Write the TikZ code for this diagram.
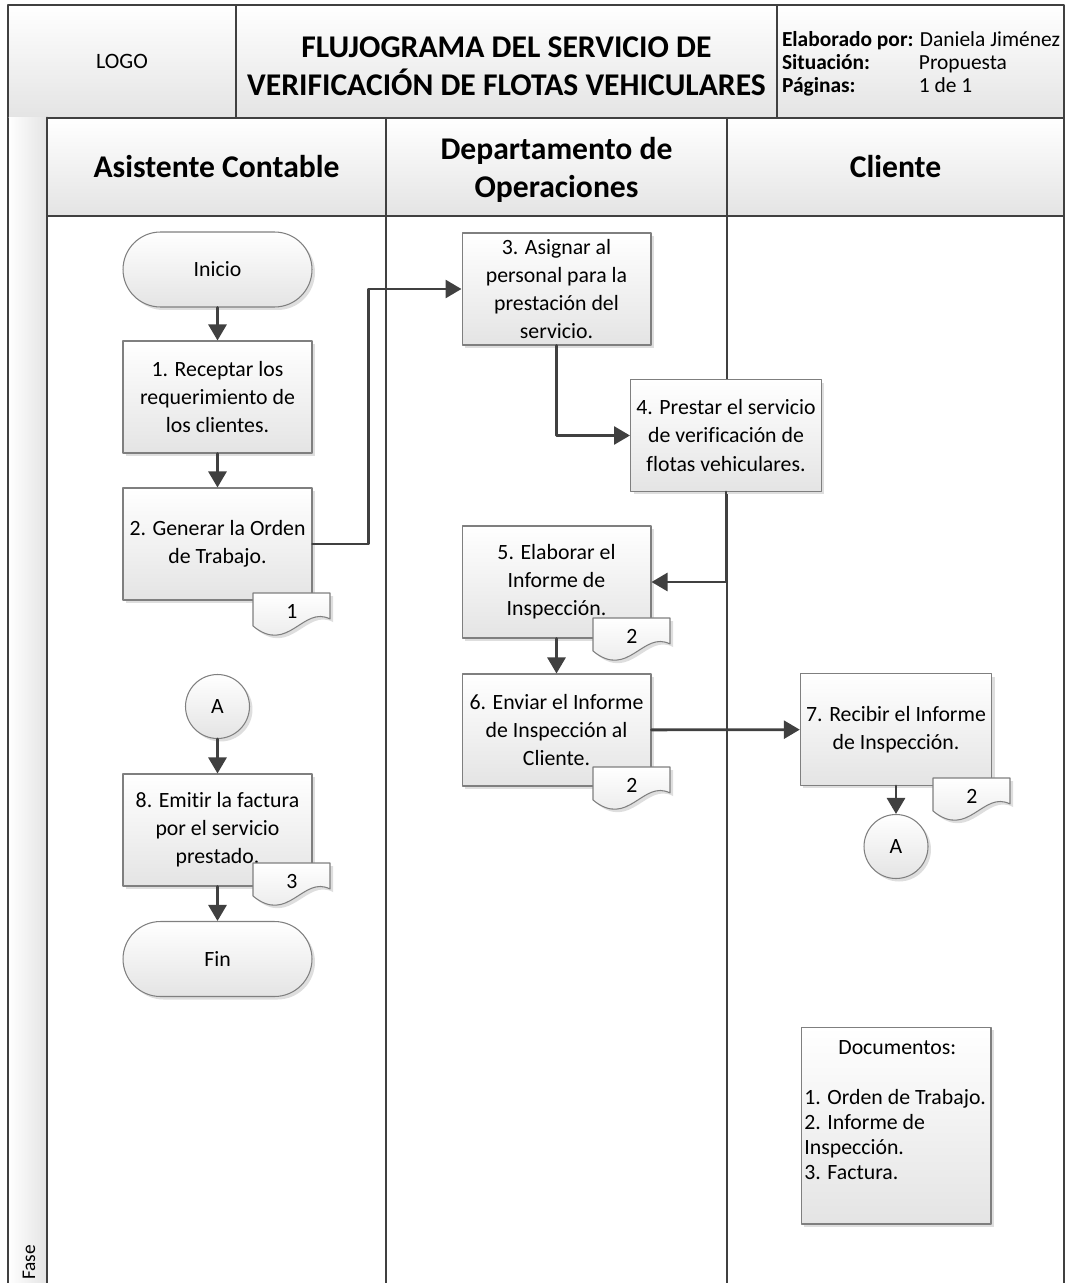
\documentclass[tikz,border=0pt]{standalone}
\usepackage{fontspec}
\setmainfont{Carlito}[Ligatures=NoCommon]
\usetikzlibrary{arrows.meta,shadows}

\definecolor{linegray}{HTML}{404040}
\definecolor{boxgray}{HTML}{7F7F7F}
\definecolor{shadegray}{HTML}{E4E4E4}

\tikzset{
  cell/.style={draw=linegray,line width=1.6pt,top color=white,bottom color=shadegray,inner sep=2pt},
  headtxt/.style={align=center,font=\fontsize{18}{21.5}\selectfont\bfseries},
  proc/.style={draw=boxgray,line width=0.6pt,top color=white,bottom color=shadegray,
    minimum width=3.78cm,minimum height=2.24cm,align=center,
    drop shadow={shadow xshift=0.06cm,shadow yshift=-0.06cm,fill=black!13,opacity=1}},
  term/.style={proc,rounded corners=0.75cm,minimum height=1.5cm},
  conn/.style={proc,circle,minimum width=1.28cm,minimum height=1.28cm,inner sep=0pt},
  docshape/.style={draw=boxgray,line width=0.6pt,top color=white,bottom color=shadegray,
    drop shadow={shadow xshift=0.06cm,shadow yshift=-0.06cm,fill=black!13,opacity=1}},
  flow/.style={draw=linegray,line width=1.6pt,-{Triangle[length=0.32cm,width=0.36cm]}},
  lane/.style={draw=linegray,line width=1.6pt}
}

% documento con borde ondulado: nombre, x, y (esquina superior izquierda), numero
\newcommand\docmark[4]{%
  \begin{scope}[shift={(#2,#3)}]
    \draw[docshape] (0,0) -- (77,0) -- (77,26) .. controls (50,12) and (35,62) .. (0,33) -- cycle;
    \node (#1) at (39,18) {#4};
  \end{scope}}

\begin{document}
\begin{tikzpicture}[line cap=round,line join=round,x=0.02cm,y=-0.02cm,font=\fontsize{12.4}{16}\selectfont]
\useasboundingbox (0,0) rectangle (1066,1283);
\clip (0,0) rectangle (1066,1283);

% encabezado
\node[cell,minimum width=4.56cm,minimum height=2.26cm,font=\fontsize{12.5}{15}\selectfont] (logo) at (122,61.5) {LOGO};
\node[cell,minimum width=10.82cm,minimum height=2.26cm] (titulo) at (506.5,61.5) {};
\node[headtxt] (titulotxt) at (506.5,66) {FLUJOGRAMA DEL SERVICIO DE\\VERIFICACIÓN DE FLOTAS VEHICULARES};
\node[cell,minimum width=5.74cm,minimum height=2.26cm] (datos) at (920.5,61.5) {};
\node[align=left,inner sep=0pt,font=\fontsize{12.2}{13.2}\selectfont] (datostxt) at (921,63.5) {\textbf{Elaborado por:} Daniela Jiménez\\\makebox[2.74cm][l]{\textbf{Situación:}}Propuesta\\\makebox[2.74cm][l]{\textbf{Páginas:}}1 de 1};

% carriles
\shade[left color=white,right color=shadegray] (8,118) rectangle (47,1290);
\node[rotate=90,anchor=west,inner sep=0pt,font=\fontsize{11}{13}\selectfont] (fase) at (29,1280) {Fase};
\node[cell,minimum width=6.78cm,minimum height=1.96cm,headtxt] (asistente) at (216.5,167) {Asistente Contable};
\node[cell,minimum width=6.82cm,minimum height=1.96cm] (operaciones) at (556.5,167) {};
\node[headtxt] (operacionestxt) at (556.5,170) {Departamento de\\Operaciones};
\node[cell,minimum width=6.74cm,minimum height=1.96cm,headtxt] (cliente) at (895.5,167) {Cliente};
\draw[lane] (8,118) -- (8,1290);
\draw[lane] (47,118) -- (47,1290);
\draw[lane] (386,216) -- (386,1290);
\draw[lane] (727,216) -- (727,1290);
\draw[lane] (1064,118) -- (1064,1290);

% asistente contable
\node[term] (inicio) at (217.5,269.5) {Inicio};
\node[proc] (p1) at (217.5,397) {1. Receptar los\\requerimiento de\\los clientes.};
\node[proc] (p2) at (217.5,544) {2. Generar la Orden\\de Trabajo.};
\docmark{d1}{253}{593}{1}
\node[conn] (a1) at (217.5,706.5) {A};
\node[proc] (p8) at (217.5,830) {8. Emitir la factura\\por el servicio\\prestado.};
\docmark{d8}{253}{863}{3}
\node[term] (fin) at (217.5,959) {Fin};

% departamento de operaciones
\node[proc] (p3) at (556.5,289) {3. Asignar al\\personal para la\\prestación del\\servicio.};
\node[proc] (p4) at (726,435.5) {4. Prestar el servicio\\de verificación de\\flotas vehiculares.};
\node[proc] (p5) at (556.5,582) {5. Elaborar el\\Informe de\\Inspección.};
\docmark{d5}{593}{618}{2}
\node[proc] (p6) at (556.5,730) {6. Enviar el Informe\\de Inspección al\\Cliente.};
\docmark{d6}{593}{767}{2}

% cliente
\node[proc] (p7) at (896,729.5) {7. Recibir el Informe\\de Inspección.};
\docmark{d7}{933}{778}{2}
\node[conn] (a2) at (896,846.5) {A};
\node[proc,minimum width=3.8cm,minimum height=3.94cm] (docs) at (896,1125.5) {};
\node[anchor=north west,inner sep=0pt,align=left,font=\fontsize{12.4}{14.3}\selectfont] (docslista) at (804,1040) {\makebox[3.72cm]{Documentos:}\\[14.3pt]1. Orden de Trabajo.\\2. Informe de\\Inspección.\\3. Factura.};

% flujo
\draw[flow] (inicio) -- (p1);
\draw[flow] (p1) -- (p2);
\draw[flow] (p2.east) -- ++(56,0) |- (p3.west);
\draw[flow] (p3.south) |- (p4.west);
\draw[flow] (p4.south) |- (p5.east);
\draw[flow] (p5) -- (p6);
\draw[flow] (p6) -- (p7);
\draw[flow] (p7) -- (a2);
\draw[flow] (a1) -- (p8);
\draw[flow] (p8) -- (fin);
\end{tikzpicture}
\end{document}
